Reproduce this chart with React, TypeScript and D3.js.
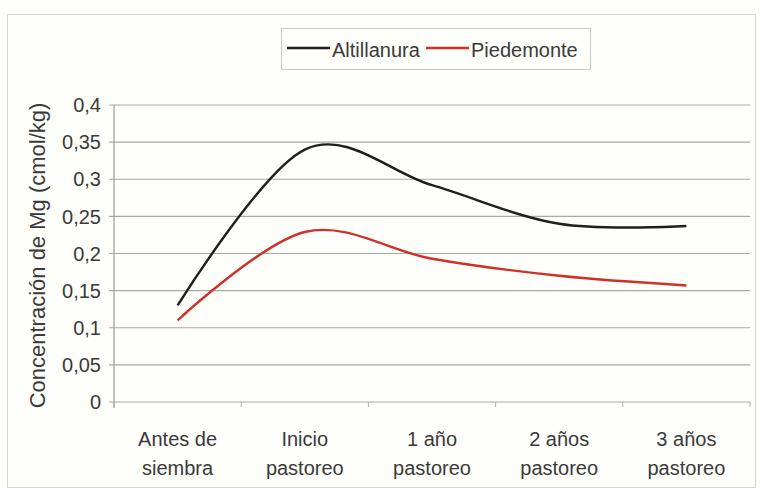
import React from "react";
import * as d3 from "d3";

const categories: string[][] = [
  ["Antes de", "siembra"],
  ["Inicio", "pastoreo"],
  ["1 año", "pastoreo"],
  ["2 años", "pastoreo"],
  ["3 años", "pastoreo"],
];
const altillanura: number[] = [0.13, 0.34, 0.292, 0.24, 0.237];
const piedemonte: number[] = [0.11, 0.229, 0.193, 0.17, 0.157];
const yTicks: number[] = [0, 0.05, 0.1, 0.15, 0.2, 0.25, 0.3, 0.35, 0.4];
const seriesNames = ["Altillanura", "Piedemonte"];
const seriesColors = ["#1c211c", "#cf3128"];

const W = 760;
const H = 490;
const left = 114;
const right = 750;
const top = 105;
const bottom = 402;
const FONT = "'Liberation Sans', Arial, sans-serif";
const TEXT = "#3a3a3a";

export default function App() {
  const x = d3
    .scaleBand<number>()
    .domain(categories.map((_, i) => i))
    .range([left, right]);
  const y = d3.scaleLinear().domain([0, 0.4]).range([bottom, top]);
  const cx = (i: number) => (x(i) as number) + x.bandwidth() / 2;
  const line = d3
    .line<number>()
    .x((_, i) => cx(i))
    .y((d) => y(d))
    .curve(d3.curveCardinal.tension(0));
  const fmt = (v: number) => String(+v.toFixed(2)).replace(".", ",");
  const bounds = categories.map((_, i) => x(i) as number).concat([right]);

  return (
    <svg
      width={W}
      height={H}
      style={{ position: "absolute", left: 0, top: 0, background: "#fefefb" }}
      fontFamily={FONT}
    >
      <rect x={0} y={0} width={W} height={H} fill="#fefefb" />
      <rect x={7.5} y={14.5} width={748} height={473} fill="none" stroke="#d8d6cf" strokeWidth={1} />
      {yTicks.map((t) => (
        <g key={t}>
          <line x1={left - 5} x2={right} y1={y(t)} y2={y(t)} stroke="#a9a9a6" strokeWidth={1.2} />
          <text x={101} y={y(t)} dy="0.36em" textAnchor="end" fontSize={20} fill={TEXT}>
            {fmt(t)}
          </text>
        </g>
      ))}
      <line x1={left} x2={left} y1={top} y2={bottom + 6} stroke="#9a9a98" strokeWidth={1.2} />
      {bounds.map((b, i) => (
        <line key={i} x1={b} x2={b} y1={bottom} y2={bottom + 5} stroke="#b0b0ad" strokeWidth={1} />
      ))}
      {categories.map((lines, i) => (
        <text key={i} x={cx(i)} textAnchor="middle" fontSize={20} fill={TEXT}>
          {lines.map((l, j) => (
            <tspan key={j} x={cx(i)} y={446 + j * 29}>
              {l}
            </tspan>
          ))}
        </text>
      ))}
      <text
        transform={`translate(45, ${(top + bottom) / 2 + 2}) rotate(-90)`}
        textAnchor="middle"
        fontSize={22}
        fill={TEXT}
      >
        Concentración de Mg (cmol/kg)
      </text>
      {[altillanura, piedemonte].map((s, k) => (
        <path key={k} d={line(s) || ""} fill="none" stroke={seriesColors[k]} strokeWidth={2.4} />
      ))}
      <rect x={281.5} y={28.5} width={309} height={41} fill="none" stroke="#c8c8c4" strokeWidth={1} />
      {seriesNames.map((n, k) => {
        const lx = k === 0 ? 287 : 426;
        return (
          <g key={n}>
            <line x1={lx} x2={lx + 43} y1={48} y2={48} stroke={seriesColors[k]} strokeWidth={2.4} />
            <text x={lx + 45} y={57} fontSize={20} fill={TEXT}>
              {n}
            </text>
          </g>
        );
      })}
    </svg>
  );
}
